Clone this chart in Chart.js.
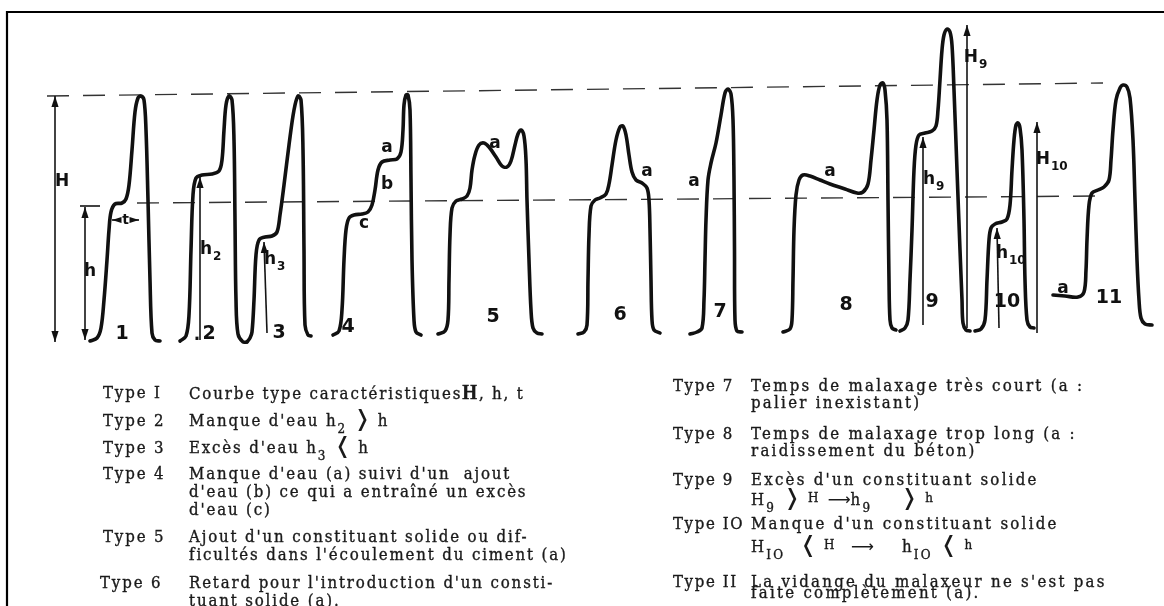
<!DOCTYPE html>
<html lang="fr">
<head>
<meta charset="utf-8"/>
<title>Courbes de malaxage - types</title>
<script src="https://cdn.jsdelivr.net/npm/chart.js"></script>
<style>
    body { margin: 0; background: #fff; }
    #page { position: relative; width: 1164px; height: 606px; overflow: hidden; }
    #courbes { position: absolute; left: 0; top: 0; }
    .ligne {
        position: absolute;
        font-family: "DejaVu Serif", serif;
        font-size: 15px;
        letter-spacing: 1.85px;
        line-height: 18px;
        height: 18px;
        white-space: pre;
        color: #1a1a1a;
        -webkit-text-stroke: 0.35px #1a1a1a;
        transform: scaleY(1.05);
    }
    .droite { letter-spacing: 2.25px; }
    .droite.etiq { letter-spacing: 1.6px; }
    .ligne sub { font-size: 12px; vertical-align: -6px; line-height: 0; }
    .chev { font-family: "DejaVu Sans"; font-size: 21px; line-height: 0; -webkit-text-stroke: 0; letter-spacing: 0; }
    .fl { font-family: "DejaVu Sans"; font-size: 16px; line-height: 0; -webkit-text-stroke: 0; letter-spacing: 0; }
    .bigH { font-family: "Liberation Serif"; font-weight: bold; font-size: 19px; }
    .petit { font-size: 12px; vertical-align: 3px; }
</style>
</head>
<body>
<div id="page">
    <canvas id="courbes" width="1164" height="606"></canvas>
    <div id="legende"></div>
</div>

<script>
// temps (abscisse) / hauteur au-dessus de la ligne de base, relevés sur chaque courbe
const courbe1 = [[90,-1],[97,2],[101,12],[104,40],[107,80],[109,110],[111,128],[115,136],[122,137],[126,141],[129,155],[132,190],[135,228],[138,242],[141,244],[144,240],[146,210],[148,140],[150,60],[152,7],[155,0],[160,-1]];
const courbe2 = [[180,-1],[186,4],[189,25],[191,90],[193,145],[196,162],[202,165],[212,166],[219,169],[222,180],[224,210],[226,235],[229,244],[232,240],[234,200],[235,120],[236,40],[238,6],[243,-2],[247,-2]];
const courbe3 = [[247,-2],[250,2],[252,8],[254,40],[256,85],[259,100],[265,103],[272,104],[277,108],[280,125],[284,155],[289,195],[294,230],[298,244],[301,240],[303,190],[304,90],[305,15],[308,5],[311,4]];
const courbe4 = [[333,5],[339,9],[342,30],[344,80],[346,110],[349,122],[354,125],[362,126],[368,128],[372,135],[375,150],[378,170],[382,178],[390,180],[397,181],[401,188],[403,210],[404,235],[406,245],[408,245],[410,230],[411,160],[412,80],[414,20],[416,8],[421,5]];
const courbe5 = [[438,6],[445,9],[448,20],[449,60],[450,105],[452,132],[456,139],[462,141],[467,144],[470,152],[472,170],[475,185],[479,195],[484,197],[489,193],[496,183],[502,174],[507,173],[511,179],[515,195],[518,206],[521,210],[524,204],[526,180],[527,140],[529,80],[531,30],[533,12],[537,7],[542,6]];
const courbe6 = [[578,6],[584,8],[587,15],[588,60],[589,105],[591,134],[595,140],[600,142],[606,146],[609,156],[612,175],[616,200],[620,213],[623,214],[626,205],[629,185],[632,168],[636,160],[642,157],[647,152],[649,140],[650,110],[651,60],[652,20],[654,10],[660,7]];
const courbe7 = [[690,6],[697,8],[702,12],[704,40],[705,80],[706,120],[708,160],[711,177],[716,197],[721,225],[725,247],[728,251],[731,246],[733,220],[734,160],[734.5,90],[735,20],[737,9],[742,8]];
const courbe8 = [[783,8],[790,11],[792,20],[793,60],[794,110],[796,145],[799,160],[803,165],[810,164],[820,160],[830,156],[845,151],[857,147],[863,148],[868,156],[871,180],[874,210],[877,240],[880,255],[883,257],[885,250],[887,220],[888,140],[889,60],[890,20],[892,12],[896,10]];
const courbe9 = [[900,9],[905,12],[908,20],[910,60],[912,110],[914,170],[916,195],[919,205],[925,207],[932,209],[936,214],[938,230],[940,260],[942,290],[944,305],[947,311],[950,308],[952,295],[954,250],[957,170],[960,90],[962,40],[963,17],[966,10],[970,9]];
const courbe10 = [[975,9],[981,11],[985,20],[987,60],[989,100],[991,112],[995,116],[1002,118],[1007,121],[1010,135],[1012,170],[1014,200],[1016,215],[1018,217],[1020,212],[1022,190],[1024,120],[1025,60],[1027,20],[1030,13],[1034,12]];
const courbe11 = [[1053,45],[1065,44],[1078,43],[1084,48],[1086,70],[1087,100],[1089,135],[1092,147],[1098,150],[1104,153],[1109,160],[1111,180],[1113,210],[1116,240],[1120,252],[1123,255],[1127,253],[1130,242],[1133,200],[1135,140],[1137,80],[1139,40],[1141,22],[1145,16],[1152,15]];

// niveaux de référence H et h (tirets)
const niveauH = [[47,244],[1103,257]];
const niveauh = [[137,137],[1103,144]];

// cotes : [départ, arrivée]
const coteH = [[55,244],[55,-2]];
const coteh = [[85,133],[85,0]];
const taloh = [[80,134],[100,134]];
const coteh2 = [[200,0],[200,163]];
const coteh3 = [[267,7],[264,98]];
const coteh9 = [[923,15],[923,203]];
const coteH9 = [[967,12],[967,315]];
const coteh10 = [[999,12],[997,112]];
const coteH10 = [[1037,7],[1037,218]];
const coteT1 = [[121,120],[112,120]];
const coteT2 = [[130,120],[139,120]];

// annotations manuscrites
const reperes = [
    ['H', '', 62, 158], ['h', '', 90, 68], ['t', '', 125.5, 120],
    ['1', '', 122, 6], ['.', '', 197, 4], ['2', '', 209, 6], ['3', '', 279, 7], ['4', '', 348, 13],
    ['5', '', 493, 23], ['6', '', 620, 25], ['7', '', 720, 28], ['8', '', 846, 35],
    ['9', '', 932, 38], ['10', '', 1007, 38], ['11', '', 1109, 42],
    ['a', '', 387, 192], ['b', '', 387, 155], ['c', '', 364, 116], ['a', '', 495, 196],
    ['a', '', 647, 168], ['a', '', 694, 158], ['a', '', 830, 168], ['a', '', 1063, 51],
    ['h', '2', 212, 90], ['h', '3', 276, 80], ['h', '9', 935, 160], ['H', '9', 978, 282],
    ['h', '10', 1008, 86], ['H', '10', 1050, 180]
];

// légende dactylographiée
const typesGauche = [
    ['Type I', ['Courbe type caractéristiques<span class="bigH">H</span>, h, t']],
    ['Type 2', ['Manque d\'eau h<sub>2</sub> <span class="chev">❭</span> h']],
    ['Type 3', ['Excès d\'eau h<sub>3</sub> <span class="chev">❬</span> h']],
    ['Type 4', ['Manque d\'eau (a) suivi d\'un  ajout', 'd\'eau (b) ce qui a entraîné un excès', 'd\'eau (c)']],
    ['Type 5', ['Ajout d\'un constituant solide ou dif-', 'ficultés dans l\'écoulement du ciment (a)']],
    ['Type 6', ['Retard pour l\'introduction d\'un consti-', 'tuant solide (a).']]
];
const typesDroite = [
    ['Type 7', ['Temps de malaxage très court (a :', 'palier inexistant)']],
    ['Type 8', ['Temps de malaxage trop long (a :', 'raidissement du béton)']],
    ['Type 9', ['Excès d\'un constituant solide', 'H<sub>9</sub> <span class="chev">❭</span> <span class="petit">H</span> <span class="fl">⟶</span>h<sub>9</sub>    <span class="chev">❭</span> <span class="petit">h</span>']],
    ['Type IO', ['Manque d\'un constituant solide', 'H<sub>IO</sub>  <span class="chev">❬</span> <span class="petit">H</span>  <span class="fl">⟶</span>    h<sub>IO</sub> <span class="chev">❬</span> <span class="petit">h</span>']],
    ['Type II', ['La vidange du malaxeur ne s\'est pas', 'faite complètement (a).']]
];
const rangsGauche = [[393], [421], [448], [474, 492, 510], [537, 555], [583, 601]];
const rangsDroite = [[386, 403], [434, 451], [480, 498], [524, 545], [582, 593]];

function poserLegende(types, rangs, xType, xTexte, classe) {
    const boite = document.getElementById('legende');
    types.forEach(function (item, i) {
        const lab = document.createElement('div');
        lab.className = 'ligne etiq ' + classe;
        lab.style.left = (item[0] === 'Type 6' ? xType - 3 : xType) + 'px';
        lab.style.top = (rangs[i][0] - 9) + 'px';
        lab.textContent = item[0];
        boite.appendChild(lab);
        item[1].forEach(function (txt, j) {
            const l = document.createElement('div');
            l.className = 'ligne ' + classe;
            l.style.left = xTexte + 'px';
            l.style.top = (rangs[i][j] - 9) + 'px';
            l.innerHTML = txt;
            boite.appendChild(l);
        });
    });
}
poserLegende(typesGauche, rangsGauche, 103, 189, 'gauche');
poserLegende(typesDroite, rangsDroite, 673, 751, 'droite');

function pts(tab) {
    return tab.map(function (p) { return { x: p[0], y: p[1] }; });
}

const courbes = [courbe1, courbe2, courbe3, courbe4, courbe5, courbe6, courbe7, courbe8, courbe9, courbe10, courbe11];
const cotes = [
    [coteH, 'both'], [coteh, 'both'], [taloh, ''], [coteh2, 'end'], [coteh3, 'end'],
    [coteh9, 'end'], [coteH9, 'end'], [coteh10, 'end'], [coteH10, 'end'],
    [coteT1, 'end'], [coteT2, 'end']
];

var datasets = [];
courbes.forEach(function (c) {
    datasets.push({
        data: pts(c),
        borderColor: '#111',
        borderWidth: 3.6,
        tension: 0.35,
        borderCapStyle: 'round',
        borderJoinStyle: 'round',
        order: 0
    });
});
[niveauH, niveauh].forEach(function (n) {
    datasets.push({
        data: pts(n),
        borderColor: '#333',
        borderWidth: 1.4,
        borderDash: [22, 14],
        tension: 0,
        order: 2
    });
});
cotes.forEach(function (c) {
    datasets.push({
        data: pts(c[0]),
        borderColor: '#151515',
        borderWidth: 1.6,
        tension: 0,
        fleche: c[1],
        order: 1
    });
});

// cadre de la planche
const cadre = {
    id: 'cadre',
    beforeDraw: function (chart) {
        const ctx = chart.ctx;
        ctx.save();
        ctx.fillStyle = '#fff';
        ctx.fillRect(0, 0, chart.width, chart.height);
        ctx.strokeStyle = '#000';
        ctx.lineWidth = 2.2;
        ctx.beginPath();
        ctx.moveTo(chart.width, 12);
        ctx.lineTo(7, 12);
        ctx.lineTo(7, chart.height);
        ctx.stroke();
        ctx.restore();
    }
};

// pointes de flèche au bout des cotes
const fleches = {
    id: 'fleches',
    afterDatasetsDraw: function (chart) {
        const ctx = chart.ctx;
        const sx = chart.scales.x, sy = chart.scales.y;
        function pointe(a, b) {
            const x1 = sx.getPixelForValue(a.x), y1 = sy.getPixelForValue(a.y);
            const x2 = sx.getPixelForValue(b.x), y2 = sy.getPixelForValue(b.y);
            const ang = Math.atan2(y2 - y1, x2 - x1);
            const L = 11, W = 3.6;
            ctx.beginPath();
            ctx.moveTo(x2, y2);
            ctx.lineTo(x2 - L * Math.cos(ang) + W * Math.sin(ang), y2 - L * Math.sin(ang) - W * Math.cos(ang));
            ctx.lineTo(x2 - L * Math.cos(ang) - W * Math.sin(ang), y2 - L * Math.sin(ang) + W * Math.cos(ang));
            ctx.closePath();
            ctx.fill();
        }
        ctx.save();
        ctx.fillStyle = '#111';
        chart.data.datasets.forEach(function (ds) {
            if (!ds.fleche) return;
            const d = ds.data;
            if (ds.fleche === 'end' || ds.fleche === 'both') pointe(d[d.length - 2], d[d.length - 1]);
            if (ds.fleche === 'both') pointe(d[1], d[0]);
        });
        ctx.restore();
    }
};

// lettres et numéros tracés à la main
const notes = {
    id: 'notes',
    afterDatasetsDraw: function (chart) {
        const ctx = chart.ctx;
        const sx = chart.scales.x, sy = chart.scales.y;
        ctx.save();
        ctx.fillStyle = '#111';
        ctx.textBaseline = 'middle';
        reperes.forEach(function (r) {
            const x = sx.getPixelForValue(r[2]), y = sy.getPixelForValue(r[3]);
            const chiffre = /[0-9]/.test(r[0]);
            ctx.font = (chiffre ? 'bold 19px' : (r[0] === 't' ? 'bold 14px' : 'bold 17px')) + ' "DejaVu Sans"';
            if (r[0] === 't') {
                ctx.fillStyle = '#fff';
                ctx.fillRect(x - 4, y - 7, 8, 14);
                ctx.fillStyle = '#111';
            }
            if (!r[1]) {
                ctx.textAlign = 'center';
                ctx.fillText(r[0], x, y);
            } else {
                ctx.textAlign = 'left';
                const w = ctx.measureText(r[0]).width;
                ctx.fillText(r[0], x - w, y);
                ctx.font = 'bold 12px "DejaVu Sans"';
                ctx.fillText(r[1], x + 1, y + 7);
            }
        });
        ctx.restore();
    }
};

new Chart(document.getElementById('courbes'), {
    type: 'line',
    data: { datasets: datasets },
    options: {
        responsive: false,
        animation: false,
        devicePixelRatio: 1,
        layout: { padding: 0 },
        elements: { point: { radius: 0, hoverRadius: 0 } },
        scales: {
            x: { type: 'linear', min: 0, max: 1164, display: false },
            y: { type: 'linear', min: -266, max: 340, display: false }
        },
        plugins: {
            legend: { display: false },
            tooltip: { enabled: false }
        },
        events: []
    },
    plugins: [cadre, fleches, notes]
});
</script>
</body>
</html>
